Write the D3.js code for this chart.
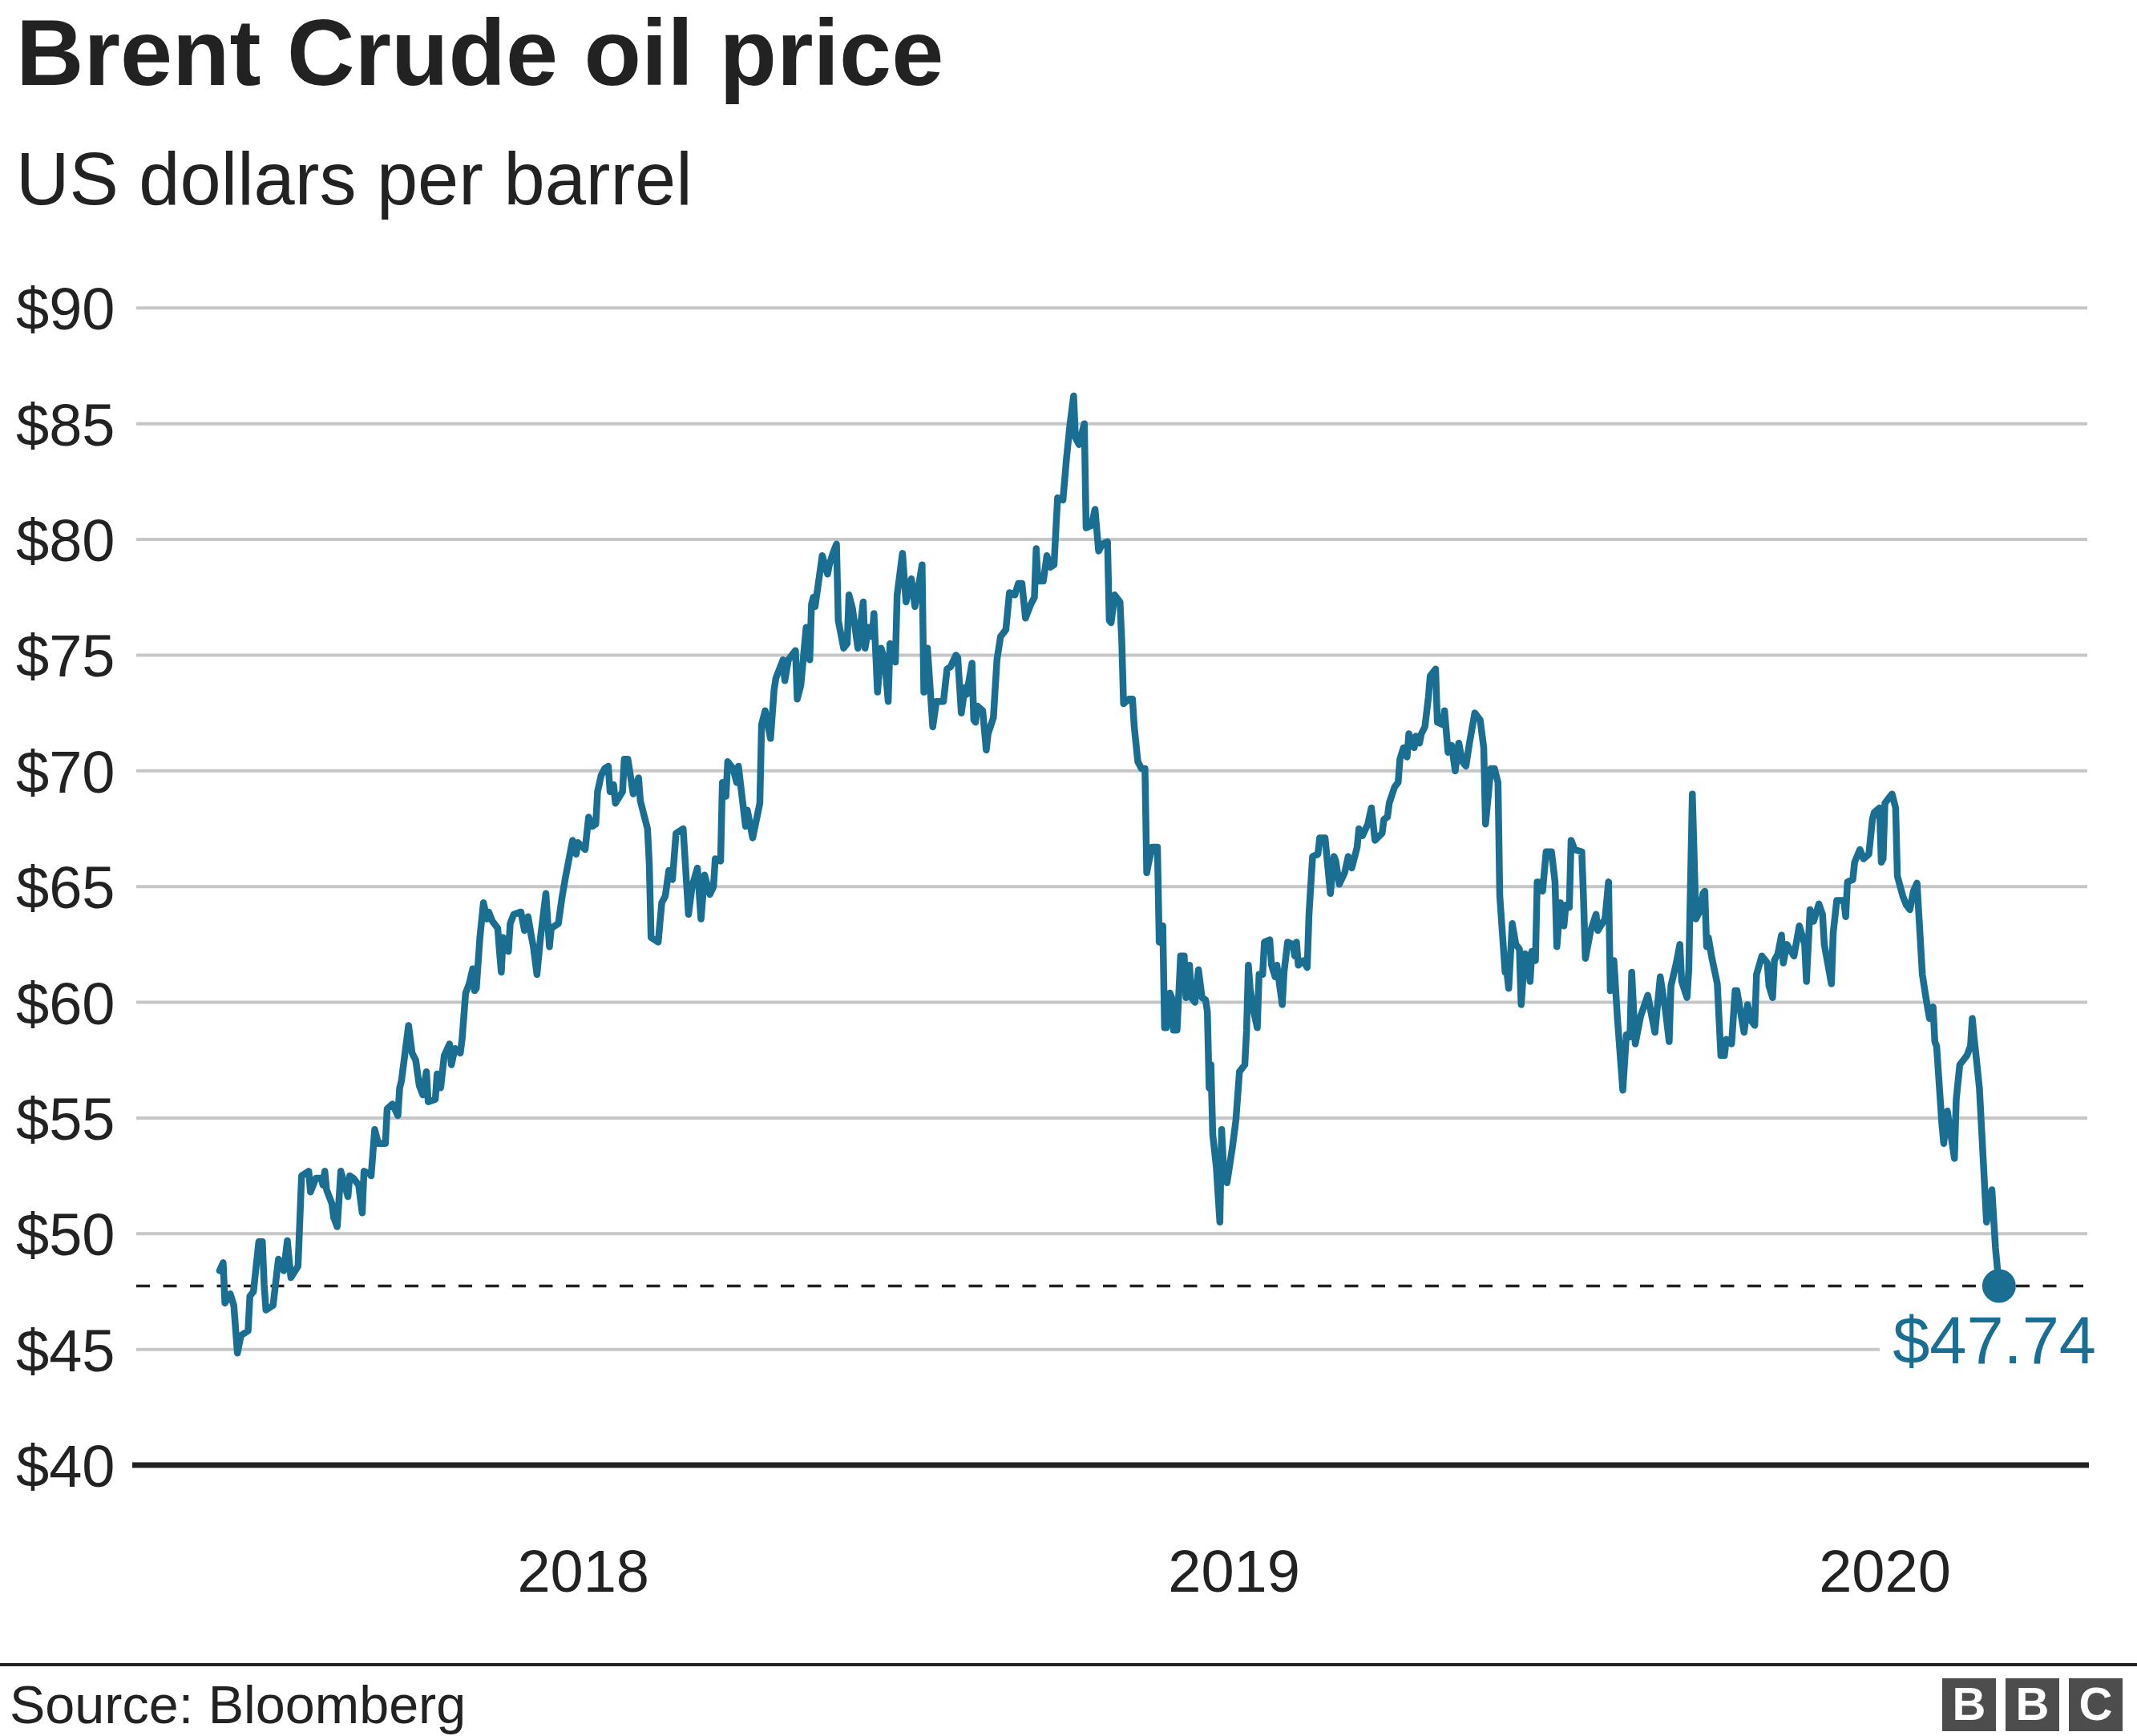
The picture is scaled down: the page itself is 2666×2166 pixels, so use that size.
<!DOCTYPE html>
<html><head><meta charset="utf-8">
<script src="https://cdn.jsdelivr.net/npm/d3@7"></script>
<style>html,body{margin:0;padding:0;background:#fff;} svg{display:block;}</style>
</head><body>
<svg id="chart" width="2666" height="2166"></svg>
<script>
const dates = [
"2017-06-11","2017-06-13","2017-06-14","2017-06-17","2017-06-19","2017-06-21","2017-06-23","2017-06-27","2017-06-28","2017-06-30",
"2017-07-03","2017-07-05","2017-07-06","2017-07-07","2017-07-11","2017-07-14","2017-07-16","2017-07-17","2017-07-19","2017-07-21",
"2017-07-25","2017-07-27","2017-07-31","2017-08-01","2017-08-04","2017-08-07","2017-08-08","2017-08-09","2017-08-10","2017-08-13",
"2017-08-14","2017-08-16","2017-08-18","2017-08-22","2017-08-23","2017-08-25","2017-08-28","2017-08-30","2017-08-31","2017-09-03",
"2017-09-04","2017-09-06","2017-09-08","2017-09-12","2017-09-13","2017-09-16","2017-09-19","2017-09-20","2017-09-21","2017-09-25",
"2017-09-27","2017-09-29","2017-10-01","2017-10-03","2017-10-05","2017-10-06","2017-10-10","2017-10-11","2017-10-13","2017-10-15",
"2017-10-18","2017-10-19","2017-10-21","2017-10-24","2017-10-25","2017-10-27","2017-10-29","2017-10-31","2017-11-01","2017-11-02",
"2017-11-04","2017-11-06","2017-11-08","2017-11-09","2017-11-11","2017-11-14","2017-11-15","2017-11-16","2017-11-17","2017-11-20",
"2017-11-21","2017-11-23","2017-11-27","2017-11-29","2017-12-01","2017-12-03","2017-12-04","2017-12-06","2017-12-08","2017-12-11",
"2017-12-13","2017-12-14","2017-12-18","2017-12-20","2017-12-22","2017-12-26","2017-12-28","2017-12-29",
"2018-01-02","2018-01-04","2018-01-06","2018-01-08","2018-01-09","2018-01-11","2018-01-13","2018-01-15","2018-01-16","2018-01-18",
"2018-01-19","2018-01-23","2018-01-24","2018-01-26","2018-01-29","2018-02-01","2018-02-02","2018-02-06","2018-02-07","2018-02-08",
"2018-02-12","2018-02-14","2018-02-16","2018-02-18","2018-02-20","2018-02-22","2018-02-26","2018-03-01","2018-03-03","2018-03-06",
"2018-03-08","2018-03-10","2018-03-13","2018-03-15","2018-03-16","2018-03-19","2018-03-20","2018-03-22","2018-03-23","2018-03-26",
"2018-03-28","2018-03-29","2018-04-02","2018-04-03","2018-04-06","2018-04-10","2018-04-11","2018-04-13","2018-04-16","2018-04-18",
"2018-04-19","2018-04-23","2018-04-24","2018-04-26","2018-04-30","2018-05-01","2018-05-03","2018-05-06","2018-05-08","2018-05-09",
"2018-05-10","2018-05-11","2018-05-13","2018-05-15","2018-05-18","2018-05-19","2018-05-21","2018-05-23","2018-05-24","2018-05-27",
"2018-05-29","2018-05-30","2018-06-01","2018-06-04","2018-06-07","2018-06-08","2018-06-10","2018-06-12","2018-06-13","2018-06-15",
"2018-06-17","2018-06-19","2018-06-21","2018-06-22","2018-06-25","2018-06-26","2018-06-29","2018-07-01","2018-07-04","2018-07-06",
"2018-07-07","2018-07-10","2018-07-11","2018-07-13","2018-07-16","2018-07-18","2018-07-22","2018-07-24","2018-07-26","2018-07-29",
"2018-07-30","2018-08-01","2018-08-03","2018-08-04","2018-08-07","2018-08-08","2018-08-09","2018-08-10","2018-08-13","2018-08-15",
"2018-08-16","2018-08-19","2018-08-21","2018-08-23","2018-08-26","2018-08-28","2018-08-31","2018-09-02","2018-09-04","2018-09-06",
"2018-09-09","2018-09-11","2018-09-12","2018-09-13","2018-09-16","2018-09-18","2018-09-20","2018-09-22","2018-09-24","2018-09-27",
"2018-09-29","2018-10-01","2018-10-03","2018-10-04","2018-10-06","2018-10-09","2018-10-10","2018-10-13","2018-10-15","2018-10-17",
"2018-10-19","2018-10-22","2018-10-23","2018-10-24","2018-10-26","2018-10-29","2018-10-30","2018-10-31","2018-11-03","2018-11-05",
"2018-11-06","2018-11-08","2018-11-10","2018-11-12","2018-11-13","2018-11-14","2018-11-16","2018-11-19","2018-11-20","2018-11-22",
"2018-11-23","2018-11-24","2018-11-26","2018-11-27","2018-11-28","2018-11-30","2018-12-02","2018-12-04","2018-12-05","2018-12-07",
"2018-12-08","2018-12-10","2018-12-12","2018-12-14","2018-12-16","2018-12-17","2018-12-18","2018-12-19","2018-12-20","2018-12-22",
"2018-12-24","2018-12-25","2018-12-26","2018-12-28","2018-12-31",
"2019-01-02","2019-01-04","2019-01-07","2019-01-08","2019-01-09","2019-01-10","2019-01-12","2019-01-14","2019-01-15","2019-01-17",
"2019-01-18","2019-01-21","2019-01-22","2019-01-24","2019-01-25","2019-01-28","2019-01-29","2019-01-31","2019-02-03","2019-02-04",
"2019-02-05","2019-02-06","2019-02-09","2019-02-11","2019-02-12","2019-02-14","2019-02-17","2019-02-18","2019-02-21","2019-02-23",
"2019-02-24","2019-02-26","2019-02-27","2019-03-01","2019-03-04","2019-03-06","2019-03-08","2019-03-11","2019-03-12","2019-03-14",
"2019-03-17","2019-03-19","2019-03-21","2019-03-25","2019-03-26","2019-03-28","2019-03-29","2019-04-01","2019-04-03","2019-04-04",
"2019-04-06","2019-04-08","2019-04-09","2019-04-12","2019-04-13","2019-04-15","2019-04-16","2019-04-18","2019-04-20","2019-04-21",
"2019-04-24","2019-04-25","2019-04-28","2019-04-29","2019-05-01","2019-05-03","2019-05-05","2019-05-07","2019-05-09","2019-05-11",
"2019-05-13","2019-05-16","2019-05-19","2019-05-21","2019-05-22","2019-05-25","2019-05-27","2019-05-29","2019-05-30","2019-06-02",
"2019-06-03","2019-06-04","2019-06-06","2019-06-08","2019-06-10","2019-06-11","2019-06-13","2019-06-15","2019-06-16","2019-06-17",
"2019-06-19","2019-06-20","2019-06-21","2019-06-23","2019-06-25","2019-06-28","2019-06-30","2019-07-01","2019-07-03","2019-07-05",
"2019-07-06","2019-07-08","2019-07-09","2019-07-11","2019-07-15","2019-07-16","2019-07-17","2019-07-20","2019-07-23","2019-07-24",
"2019-07-28","2019-07-30","2019-07-31","2019-08-02","2019-08-04","2019-08-07","2019-08-09","2019-08-11","2019-08-12","2019-08-14",
"2019-08-17","2019-08-21","2019-08-25","2019-08-28","2019-08-31","2019-09-02","2019-09-03","2019-09-06","2019-09-08","2019-09-09",
"2019-09-12","2019-09-13","2019-09-15","2019-09-17","2019-09-19","2019-09-21","2019-09-22","2019-09-23","2019-09-24","2019-09-26",
"2019-09-29","2019-10-01","2019-10-03","2019-10-04","2019-10-07","2019-10-09","2019-10-10","2019-10-14","2019-10-16","2019-10-18",
"2019-10-20","2019-10-21","2019-10-24","2019-10-27","2019-10-28","2019-10-30","2019-10-31","2019-11-02","2019-11-04","2019-11-05",
"2019-11-07","2019-11-11","2019-11-14","2019-11-17","2019-11-18","2019-11-20","2019-11-22","2019-11-25","2019-11-27","2019-11-28",
"2019-12-02","2019-12-03","2019-12-05","2019-12-09","2019-12-10","2019-12-11","2019-12-14","2019-12-15","2019-12-18","2019-12-20",
"2019-12-23","2019-12-25","2019-12-26","2019-12-29","2019-12-30","2019-12-31",
"2020-01-01","2020-01-05","2020-01-07","2020-01-08","2020-01-11","2020-01-13","2020-01-15","2020-01-17","2020-01-19","2020-01-22",
"2020-01-24","2020-01-26","2020-01-28","2020-01-29","2020-01-30","2020-02-02","2020-02-03","2020-02-05","2020-02-09","2020-02-10",
"2020-02-12","2020-02-16","2020-02-18","2020-02-19","2020-02-20","2020-02-23","2020-02-27","2020-03-01","2020-03-03","2020-03-05"
];
const prices = [
48.4,48.75,47.0,47.4,46.9,44.84,45.6,45.8,47.3,47.5,
49.65,49.65,47.8,46.7,46.9,48.9,48.6,48.4,49.7,48.1,
48.6,52.5,52.7,51.8,52.4,52.4,52.1,52.7,51.9,51.3,
50.7,50.3,52.7,51.6,52.5,52.4,52.1,50.9,52.7,52.6,
52.5,54.5,53.9,53.9,55.4,55.6,55.1,56.3,56.6,59.0,
57.8,57.5,56.4,56.0,57.0,55.7,55.8,56.9,56.3,57.7,
58.2,57.3,58.0,57.8,58.4,60.4,60.8,61.45,60.5,60.6,
62.8,64.3,63.6,63.9,63.5,63.2,62.2,61.3,62.8,62.2,
63.4,63.8,63.9,63.1,63.7,62.8,62.4,61.2,62.8,64.7,
62.4,63.2,63.4,64.5,65.4,67.0,66.4,66.9,
66.6,68.0,67.6,67.7,69.1,69.8,70.1,70.2,69.1,69.4,
68.6,69.1,70.5,70.5,69.0,69.7,68.7,67.5,66.0,62.8,
62.6,64.3,64.6,65.7,65.3,67.3,67.5,63.8,65.0,65.8,
63.6,65.5,64.66,65.0,66.2,66.1,69.5,68.9,70.4,70.1,
69.5,70.2,67.6,68.3,67.1,68.6,72.0,72.6,71.4,73.5,
74.0,74.8,73.9,74.8,75.2,73.1,73.7,76.2,74.8,77.2,
77.5,77.1,78.2,79.3,78.5,78.9,79.4,79.8,76.5,75.3,
75.5,77.6,77.0,75.3,77.3,75.3,76.2,75.8,76.8,73.4,
75.3,74.8,73.0,75.5,74.7,77.6,79.4,77.3,78.3,77.1,
77.5,78.9,73.4,75.3,71.9,73.0,73.0,74.4,74.5,75.0,
74.9,72.5,73.6,73.3,74.65,72.2,72.1,72.8,72.6,70.9,
71.6,72.3,74.8,75.8,76.1,77.7,77.6,78.1,78.1,76.6,
77.2,77.5,79.6,78.2,78.2,79.3,78.8,78.9,81.8,81.7,
83.5,85.0,86.2,84.4,84.1,85.0,80.5,80.6,81.3,79.5,
79.8,79.9,76.5,76.4,77.6,77.3,75.6,72.9,73.1,73.1,
71.9,70.4,70.1,70.1,65.6,66.0,66.7,66.7,62.6,63.3,
58.9,58.9,60.4,60.2,58.8,58.8,62.0,62.0,60.2,61.6,
60.2,60.0,61.4,60.2,60.1,59.6,56.3,57.3,54.3,52.9,
50.5,54.5,53.0,52.2,53.7,
54.9,57.0,57.3,58.8,61.6,60.6,59.6,58.9,61.2,61.2,
62.6,62.7,61.6,61.1,61.6,59.9,61.3,62.6,62.5,62.0,
62.6,61.6,61.8,61.5,63.8,66.3,66.4,67.1,67.1,65.5,
64.7,66.3,66.1,65.1,65.6,66.3,65.8,66.7,67.5,67.2,
67.7,68.4,67.0,67.3,67.9,68.0,68.6,69.3,69.5,70.5,
71.0,70.6,71.6,71.0,71.5,71.2,71.6,71.9,73.2,74.1,
74.4,72.1,72.0,72.6,70.8,71.1,70.0,71.2,70.4,70.2,
71.2,72.5,72.2,71.0,67.7,70.1,70.1,69.5,64.6,61.3,
61.3,60.6,63.4,62.5,62.3,59.9,62.1,62.0,60.9,62.2,
61.8,65.2,65.2,64.8,66.5,66.5,65.2,62.4,64.3,63.3,
64.2,64.1,67.0,66.6,66.5,64.4,61.9,63.1,63.8,63.1,
63.6,65.2,60.5,61.8,59.3,56.2,58.6,58.5,61.3,58.2,
59.4,60.3,58.7,61.1,59.6,58.3,60.7,61.7,62.5,60.9,
60.2,61.4,69.0,63.6,63.9,64.7,64.8,62.4,62.8,61.9,
60.8,57.7,57.7,58.4,58.2,60.5,60.5,58.7,59.9,59.2,
59.0,61.2,62.0,61.7,60.7,60.2,61.8,62.1,62.9,61.7,
62.5,62.0,63.3,62.5,60.9,64.0,63.5,64.25,63.8,62.5,
60.8,63.0,64.4,64.4,63.7,65.2,65.3,66.05,66.6,66.2,
66.4,67.9,68.2,68.4,66.05,66.2,
68.6,69.0,68.4,65.45,64.6,64.2,64.0,64.8,65.15,61.2,
60.2,59.3,59.8,58.3,58.1,54.7,53.9,55.3,53.25,55.8,
57.3,57.7,58.1,59.3,58.5,56.3,50.5,51.9,49.4,47.74
];
const yTicks = [40,45,50,55,60,65,70,75,80,85,90];
const xTickYears = [2018,2019,2020];
const titleText = "Brent Crude oil price";
const subtitleText = "US dollars per barrel";
const sourceText = "Source: Bloomberg";
const lastValue = 47.74;
const lastLabel = "$47.74";

const W = 2666, H = 2166;
const FONT = "'Liberation Sans', Arial, Helvetica, sans-serif";
const LINE_COLOR = "#1a6e92";
const TEXT_COLOR = "#222222";
const plotLeft = 170, plotRight = 2604;

const parse = d3.utcParse("%Y-%m-%d");
const data = dates.map((d, i) => ({date: parse(d), value: prices[i]}));

const x = d3.scaleUtc()
  .domain([new Date(Date.UTC(2018,0,1)), new Date(Date.UTC(2020,0,1))])
  .range([727.7, 2351.5]);
const y = d3.scaleLinear().domain([40, 90]).range([1828, 384.3]);

const svg = d3.select("#chart").attr("viewBox", `0 0 ${W} ${H}`)
  .style("font-family", FONT);
svg.append("rect").attr("width", W).attr("height", H).attr("fill", "#fff");

// Title & subtitle
svg.append("text").attr("x", 20).attr("y", 106)
  .attr("font-size", 117).attr("font-weight", "bold").attr("fill", TEXT_COLOR)
  .text(titleText);
svg.append("text").attr("x", 20).attr("y", 255)
  .attr("font-size", 92).attr("fill", TEXT_COLOR)
  .text(subtitleText);

// Gridlines + y labels
const gy = svg.append("g");
gy.selectAll("line.grid").data(yTicks.filter(t => t !== 40)).join("line")
  .attr("class", "grid")
  .attr("x1", plotLeft).attr("x2", plotRight)
  .attr("y1", d => y(d)).attr("y2", d => y(d))
  .attr("stroke", "#c6c6c6").attr("stroke-width", 4);
gy.selectAll("text").data(yTicks).join("text")
  .attr("x", 20).attr("y", d => y(d) + 27)
  .attr("font-size", 74).attr("fill", TEXT_COLOR)
  .text(d => "$" + d);

// x labels
svg.append("g").selectAll("text").data(xTickYears).join("text")
  .attr("x", d => x(new Date(Date.UTC(d,0,1))))
  .attr("y", 1986)
  .attr("text-anchor", "middle")
  .attr("font-size", 74).attr("fill", TEXT_COLOR)
  .text(d => d);

// dashed reference line at last value
svg.append("line")
  .attr("x1", plotLeft).attr("x2", plotRight)
  .attr("y1", y(lastValue)).attr("y2", y(lastValue))
  .attr("stroke", TEXT_COLOR).attr("stroke-width", 3.5)
  .attr("stroke-dasharray", "17,16.5");

// baseline
svg.append("line")
  .attr("x1", 165).attr("x2", 2606)
  .attr("y1", y(40)).attr("y2", y(40))
  .attr("stroke", TEXT_COLOR).attr("stroke-width", 7);

// price line
const line = d3.line().x(d => x(d.date)).y(d => y(d.value));
svg.append("path").datum(data)
  .attr("d", line)
  .attr("fill", "none")
  .attr("stroke", LINE_COLOR)
  .attr("stroke-width", 8.5)
  .attr("stroke-linejoin", "round")
  .attr("stroke-linecap", "round");

// end dot & label
const last = data[data.length - 1];
svg.append("circle")
  .attr("cx", x(last.date)).attr("cy", y(last.value)).attr("r", 21)
  .attr("fill", LINE_COLOR);
const labelBg = svg.append("rect").attr("fill", "#fff");
const lbl = svg.append("text")
  .attr("x", 2615).attr("y", 1701)
  .attr("text-anchor", "end")
  .attr("font-size", 83)
  .attr("fill", LINE_COLOR)
  .text(lastLabel);
const bb = lbl.node().getBBox();
labelBg.attr("x", bb.x - 16).attr("y", bb.y).attr("width", bb.width + 30).attr("height", bb.height);

// footer
svg.append("line").attr("x1", 0).attr("x2", W).attr("y1", 2077).attr("y2", 2077)
  .attr("stroke", TEXT_COLOR).attr("stroke-width", 4);
svg.append("text").attr("x", 12).attr("y", 2150)
  .attr("font-size", 66.5).attr("fill", TEXT_COLOR)
  .text(sourceText);

const logoLetters = ["B", "B", "C"];
const logo = svg.append("g");
logo.selectAll("rect").data(logoLetters).join("rect")
  .attr("x", (d, i) => 2423 + i * 79).attr("y", 2094)
  .attr("width", 67).attr("height", 66)
  .attr("fill", "#4d4d4d");
logo.selectAll("text").data(logoLetters).join("text")
  .attr("x", (d, i) => 2423 + i * 79 + 33.5).attr("y", 2146)
  .attr("text-anchor", "middle")
  .attr("font-size", 58).attr("font-weight", "bold")
  .attr("fill", "#fff")
  .text(d => d);
</script>
</body></html>
